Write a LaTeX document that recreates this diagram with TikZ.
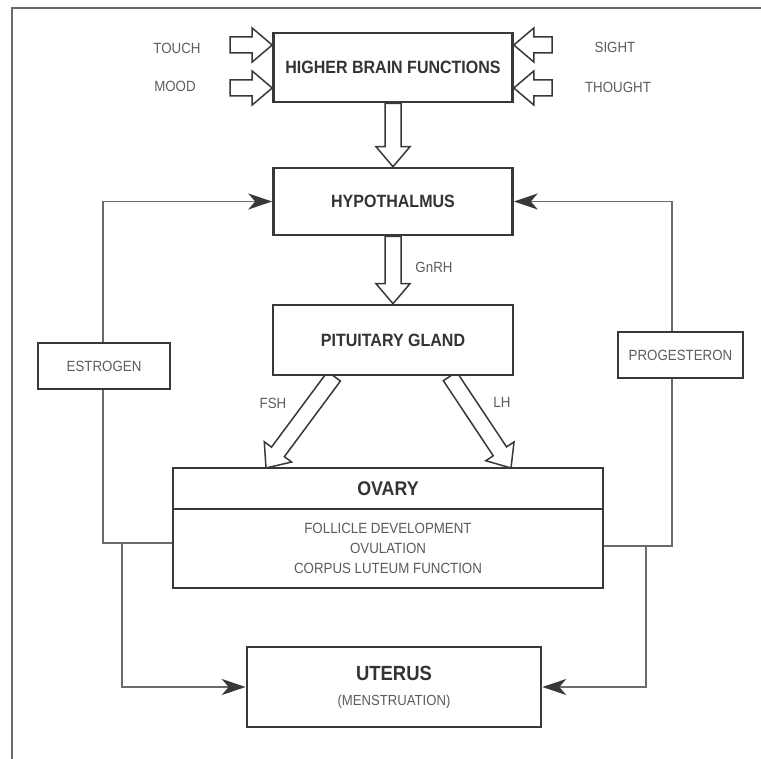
\documentclass[tikz,border=0pt]{standalone}
\usepackage{fontspec}
\setmainfont{Liberation Sans}[FakeStretch=0.9]
\usetikzlibrary{arrows.meta}
\usetikzlibrary{calc}
\usetikzlibrary{backgrounds}
\usetikzlibrary{positioning}
\definecolor{mline}{rgb}{0.22, 0.22, 0.22}
\definecolor{mfeed}{rgb}{0.42, 0.42, 0.42}
\definecolor{mtext}{rgb}{0.36, 0.36, 0.36}
\definecolor{mtitle}{rgb}{0.2, 0.2, 0.2}
\tikzset{box/.style = {draw=mline, line width=2.6pt, fill=white, inner sep=0pt, align=center}}
\tikzset{mainbox/.style = {box, text=mtitle, font=\bfseries\fontsize{17.8}{21}\selectfont}}
\tikzset{tag/.style = {text=mtext, font=\fontsize{14.8}{20}\selectfont, inner sep=0pt, align=center}}
\tikzset{hormone/.style = {box, tag, line width=2.2pt, minimum height=46}}
\tikzset{feed/.style = {draw=mfeed, line width=1.4pt,
                        -{Stealth[length=24pt, width=16pt, inset=7pt, color=mline]}}}
\tikzset{frameline/.style = {draw=mfeed, line width=1.6pt}}
% hollow block arrow from start to target
\tikzset{hollow/.style = {draw=mline, fill=white, line width=1.5pt, line join=miter,
    to path={let \p1=(\tikztostart), \p2=(\tikztotarget),
                 \n1={atan2(\y2-\y1,\x2-\x1)}, \n2={veclen(\x2-\x1,\y2-\y1)-20} in
      ($(\p1)+(\n1+90:8pt)$) -- ($(\p1)+(\n1:\n2)+(\n1+90:8pt)$)
      -- ($(\p1)+(\n1:\n2)+(\n1+90:17pt)$) -- (\p2)
      -- ($(\p1)+(\n1:\n2)+(\n1-90:17pt)$) -- ($(\p1)+(\n1:\n2)+(\n1-90:8pt)$)
      -- ($(\p1)+(\n1-90:8pt)$) -- cycle}}}

\begin{document}
\begin{tikzpicture}[x=1pt, y=-1pt]
  \useasboundingbox (0, 0) rectangle (761, 759);
  \draw [frameline] (761, 8) -- (12, 8) -- (12, 759);

  \node (hbf) at (393, 67.5) [mainbox, minimum width=239, minimum height=69] {HIGHER BRAIN FUNCTIONS};
  \node (hyp) at (393, 201.5) [mainbox, minimum width=239, minimum height=67] {HYPOTHALMUS};
  \node (pit) at (393, 340) [mainbox, minimum width=240, minimum height=70] {PITUITARY GLAND};
  \node (ovtop) at (388, 488.5) [mainbox, font=\bfseries\fontsize{19.8}{22}\selectfont,
                                 minimum width=430, minimum height=41] {OVARY};
  \node (ovbot) at (388, 548.5) [box, tag, minimum width=430, minimum height=79]
        {FOLLICLE DEVELOPMENT\\OVULATION\\CORPUS LUTEUM FUNCTION};
  \node (ut) at (394, 687) [box, tag, font=\fontsize{14.6}{25}\selectfont,
                            minimum width=294, minimum height=80]
        {\textcolor{mtitle}{\bfseries\fontsize{20.5}{25}\selectfont UTERUS}\\(MENSTRUATION)};

  \node (touchtag) at (177, 48) [tag] {TOUCH};
  \node (moodtag) at (175, 86) [tag] {MOOD};
  \node (sighttag) at (615, 47) [tag] {SIGHT};
  \node (thoughttag) at (618, 87) [tag] {THOUGHT};
  \node (gnrhtag) at (434, 267) [tag] {GnRH};
  \node (fshtag) at (273, 403) [tag] {FSH};
  \node (lhtag) at (502, 402) [tag] {LH};

  \coordinate (touch) at (230, 45);
  \coordinate (mood) at (230, 88);
  \coordinate (sight) at (552, 45);
  \coordinate (thought) at (552, 88);
  \coordinate (fsh) at ($(pit.south) + (-59, 0)$);
  \coordinate (fshtip) at (266, 468);
  \coordinate (lh) at ($(pit.south) + (57, 0)$);
  \coordinate (lhtip) at (511, 468);
  \coordinate (estro) at (103, 543);
  \coordinate (prog) at (672, 546);
  \coordinate (utleft) at (122, 543);
  \coordinate (utright) at (646, 546);

  \begin{scope}[on background layer]
    \draw [hollow] (touch) to (touch -| hbf.west);
    \draw [hollow] (mood) to (mood -| hbf.west);
    \draw [hollow] (sight) to (sight -| hbf.east);
    \draw [hollow] (thought) to (thought -| hbf.east);
    \draw [hollow] (hbf.south) to (hyp.north);
    \draw [hollow] (hyp.south) to (pit.north);
    \draw [hollow] (fsh) to (fshtip);
    \draw [hollow] (lh) to (lhtip);

    \draw [feed] (ovbot.west |- estro) -- (estro) |- (hyp.west);
    \draw [feed] (ovbot.east |- prog) -- (prog) |- (hyp.east);
    \draw [feed] (utleft) |- (ut.west);
    \draw [feed] (utright) |- (ut.east);
  \end{scope}

  \node (estrogen) at (104, 366) [hormone, minimum width=132] {ESTROGEN};
  \node (progesteron) at (680.5, 355) [hormone, minimum width=125] {PROGESTERON};
\end{tikzpicture}
\end{document}
